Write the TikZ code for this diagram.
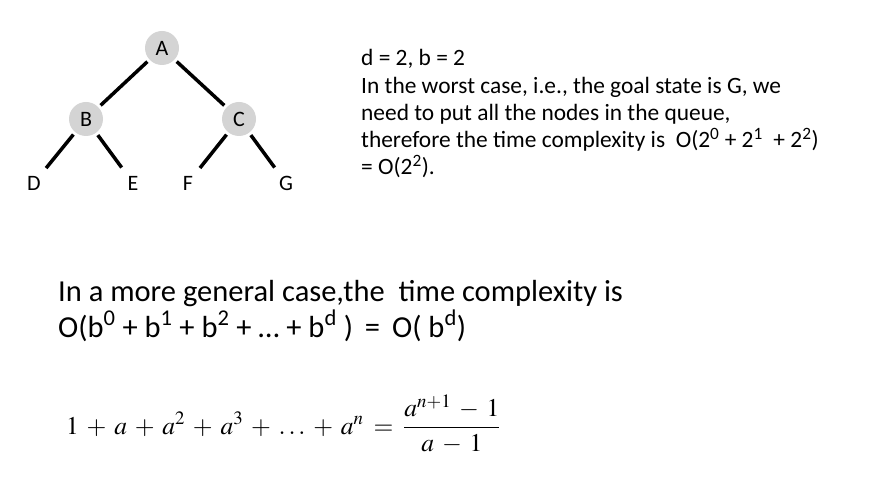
\documentclass[tikz,border=0pt]{standalone}
\usepackage{mathptmx}
\usepackage[no-math]{fontspec}
\setmainfont{Carlito}
\begin{document}
\begin{tikzpicture}[x=1pt, y=-1pt,
    inner/.style={circle, fill=black!17, minimum size=34pt, inner sep=0pt, outer sep=3pt, font=\fontsize{22}{24}\selectfont},
    leaf/.style={circle, minimum size=38pt, inner sep=0pt, font=\fontsize{22}{24}\selectfont},
    edge/.style={line width=3.5pt}]
  \useasboundingbox (0,0) rectangle (880,478);
  % tree
  \node[inner] (A) at (162,48) {A};
  \node[inner] (B) at (86,119) {B};
  \node[inner] (C) at (239,119) {C};
  \node[leaf] (D) at (34,183) {D};
  \node[leaf] (E) at (133,183) {E};
  \node[leaf] (F) at (188,183) {F};
  \node[leaf] (G) at (286,183) {G};
  \draw[edge] (A) -- (B);
  \draw[edge] (A) -- (C);
  \draw[edge] (B) -- (D);
  \draw[edge] (B) -- (E);
  \draw[edge] (C) -- (F);
  \draw[edge] (C) -- (G);
  % texts
  \node[anchor=base west, inner sep=0pt, align=left, font=\fontsize{23.4}{27.3}\selectfont] (note) at (361,175)
    {d = 2, b = 2\\
     In the worst case, i.e., the goal state is G, we\\
     need to put all the nodes in the queue,\\
     therefore the time complexity is\ \ O(2\textsuperscript{0} + 2\textsuperscript{1}\ \ + 2\textsuperscript{2})\\
     = O(2\textsuperscript{2}).};
  \node[anchor=base west, inner sep=0pt, align=left, font=\fontsize{30.5}{36}\selectfont] (general) at (58,337)
    {In a more general case,the\ \ time complexity is\\
     O(b\textsuperscript{0} + b\textsuperscript{1} + b\textsuperscript{2} + \ldots{} + b\textsuperscript{d} )\ \,=\ \,O( b\textsuperscript{d})};
  \node[anchor=base west, inner sep=0pt, font=\fontsize{25.5}{30}\selectfont] (sum) at (66,434)
    {\medmuskip=5.5mu\thickmuskip=7mu
     $1 + a + a^2 + a^3 + \ldots + a^n = \displaystyle\frac{a^{n+1} - 1}{a - 1}$};
\end{tikzpicture}
\end{document}
